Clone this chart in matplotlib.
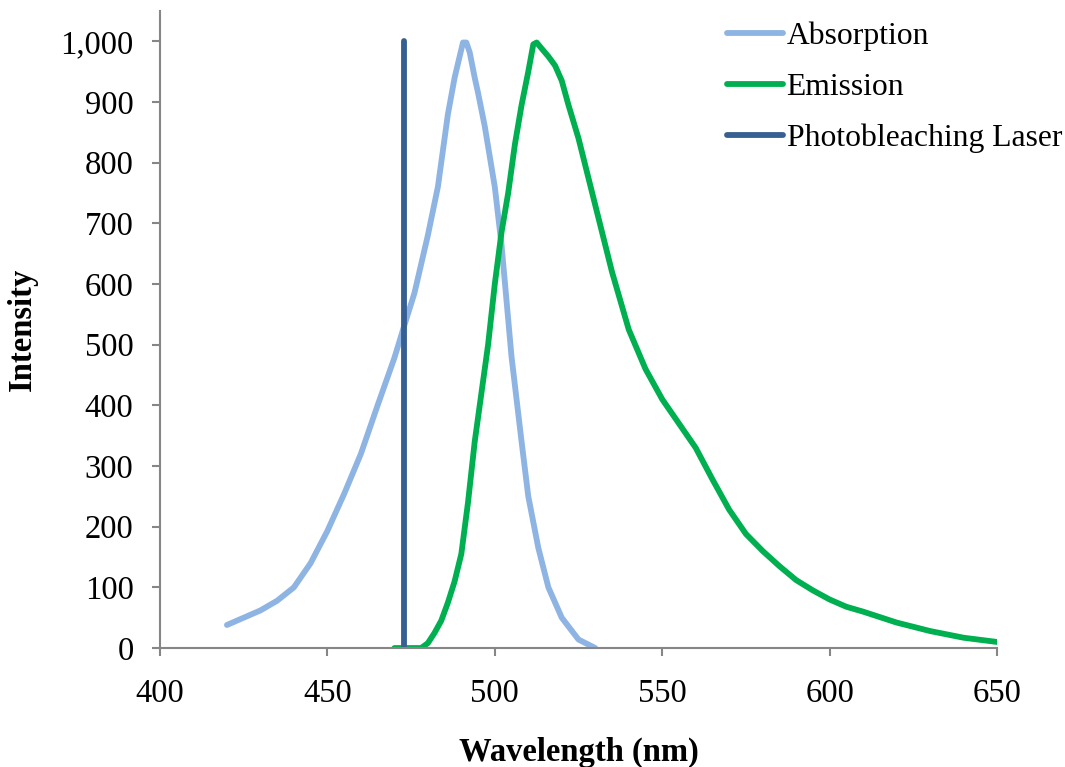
import matplotlib.pyplot as plt
from matplotlib.ticker import FuncFormatter

# Absorption spectrum (nm, intensity)
abs_nm = [420, 425, 430, 435, 440, 445, 450, 455, 460, 465, 470, 473, 476,
          480, 483, 486, 488, 489.5, 490.5, 491.5, 492.5, 494, 495, 497, 500,
          502, 505, 508, 510, 513, 516, 520, 525, 530]
abs_val = [38, 50, 62, 78, 100, 140, 193, 254, 320, 400, 478, 532, 585,
           680, 760, 880, 940, 975, 998, 998, 982, 940, 915, 860, 760,
           665, 480, 340, 250, 165, 100, 50, 14, 0]

# Emission spectrum (nm, intensity)
em_nm = [470, 475, 478, 480, 482, 484, 486, 488, 490, 492, 494, 496, 498,
         500, 502, 504, 506, 508, 510, 511.5, 512.5, 514, 516, 518, 520, 522,
         525, 530, 535, 540, 545, 550, 555, 560, 565, 570, 575, 580, 585, 590,
         595, 600, 605, 610, 620, 630, 640, 650]
em_val = [0, 0, 0, 8, 25, 45, 75, 110, 155, 240, 340, 420, 500,
          600, 685, 750, 830, 895, 950, 995, 998, 988, 975, 960, 935, 895,
          840, 730, 620, 525, 460, 410, 370, 330, 278, 228, 188, 160, 135, 112,
          95, 80, 68, 60, 42, 28, 17, 10]

# Photobleaching laser line
laser_nm = [473, 473]
laser_val = [0, 1000]

x_ticks = [400, 450, 500, 550, 600, 650]
y_ticks = list(range(0, 1001, 100))

plt.rcParams['font.family'] = ['Liberation Serif', 'DejaVu Serif']

fig = plt.figure(figsize=(10.65, 7.67), dpi=100)
ax = fig.add_axes([0.1502, 0.1551, 0.786, 0.8306])

ax.plot(abs_nm, abs_val, color='#8EB4E3', lw=4.2, solid_capstyle='round',
        solid_joinstyle='round', label='Absorption')
ax.plot(em_nm, em_val, color='#00B050', lw=4.2, solid_capstyle='round',
        solid_joinstyle='round', label='Emission')
ax.plot(laser_nm, laser_val, color='#376092', lw=4.2, solid_capstyle='round',
        label='Photobleaching Laser')

ax.set_xlim(400, 650)
ax.set_ylim(0, 1050)
ax.set_xticks(x_ticks)
ax.set_yticks(y_ticks)
ax.yaxis.set_major_formatter(FuncFormatter(lambda v, p: f'{v:,.0f}'))

for s in ['top', 'right']:
    ax.spines[s].set_visible(False)
for s in ['left', 'bottom']:
    ax.spines[s].set_color('#868686')
    ax.spines[s].set_linewidth(1.5)
ax.tick_params(axis='both', direction='out', length=6, width=1.5,
               color='#868686', labelsize=23.5)
ax.tick_params(axis='y', pad=13)
ax.tick_params(axis='x', pad=16)

ax.set_xlabel('Wavelength (nm)', fontsize=23.5, fontweight='bold', labelpad=20)
ax.set_ylabel('Intensity', fontsize=23.5, fontweight='bold', labelpad=16)

fig.legend(loc='upper left', bbox_to_anchor=(727 / 1065, 0.972),
           frameon=False, fontsize=22.8, handlelength=1.78, handletextpad=0.1,
           borderpad=0, borderaxespad=0, labelspacing=0.69)

fig.savefig('out.png', dpi=100)
